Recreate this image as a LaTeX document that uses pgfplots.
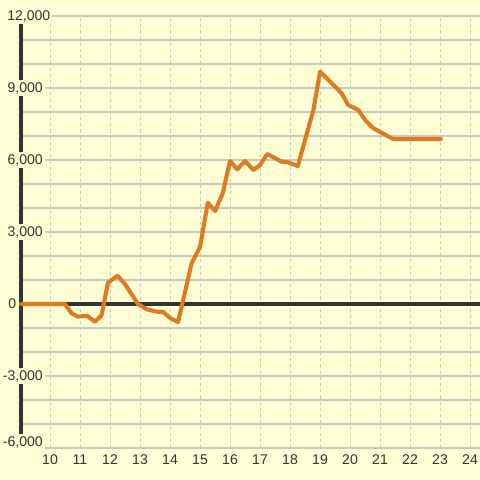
\documentclass[border=0pt]{standalone}
\usepackage{pgfplots}
\pgfplotsset{compat=1.18}
\usepackage{fontspec}
\setmainfont{Liberation Sans}
\definecolor{bgc}{HTML}{FEFED4}
\definecolor{gridc}{HTML}{C8C8C8}
\definecolor{axc}{HTML}{333333}
\definecolor{linec}{HTML}{E07A22}
\tikzset{ylab/.style={fill=bgc, inner sep=1.5pt, font=\fontsize{10}{12}\selectfont, text=axc}}
\begin{document}
\begin{tikzpicture}
  % 1px = 0.025cm, picture 480x480px
  \fill[bgc] (-0.525,-0.8) rectangle (11.475,11.2);
  \begin{axis}[
      scale only axis,
      width=11.475cm,
      height=10.8cm,
      xmin=9.033, xmax=24.333,
      ymin=-6000, ymax=12000,
      clip=false,
      axis lines*=left,
      axis line style={draw=none},
      major tick length=0pt,
      minor tick length=0pt,
      xtick={10,...,24},
      ytick={-6000,-3000,...,12000},
      yticklabels={},
      scaled y ticks=false,
      minor ytick={-6000,-5000,...,12000},
      xmajorgrids=true,
      ymajorgrids=true,
      yminorgrids=true,
      every axis x grid/.style={draw=gridc, line width=0.7pt, dash pattern=on 2.2pt off 2.2pt},
      every axis y grid/.style={draw=gridc, line width=0.8pt},
      /pgf/number format/assume math mode=true,
      tick label style={font=\fontsize{10}{12}\selectfont, text=axc},
      xticklabel style={yshift=-1pt},
    ]
    \draw[axc, line width=2.5pt] (axis cs:9.033,-6000) -- (axis cs:9.033,12000);
    \draw[axc, line width=2.5pt] (axis cs:9.033,0) -- (axis cs:24.333,0);
    \addplot[linec, line width=2.9pt, line join=round, line cap=round, mark=none] coordinates {
      (9.033,0) (10.5,0) (10.72,-390) (10.94,-530) (11.24,-490) (11.5,-740)
      (11.72,-460) (11.93,880) (12.25,1180) (12.5,830) (12.93,0) (13.22,-220)
      (13.56,-320) (13.77,-330) (14.0,-580) (14.27,-750) (14.72,1700) (15.0,2375)
      (15.26,4220) (15.5,3875) (15.76,4620) (16.0,5960) (16.24,5610) (16.5,5960)
      (16.78,5580) (17.0,5790) (17.24,6250) (17.72,5930) (17.94,5900) (18.26,5750)
      (18.5,6830) (18.78,8080) (19.0,9680) (19.39,9200) (19.72,8780) (19.94,8290)
      (20.28,8080) (20.5,7670) (20.77,7330) (21.07,7125) (21.43,6875) (23.03,6875)
    };
    % y tick labels, set over the axis line as in the original
    \node[ylab, anchor=west] at ([xshift=-0.35cm-1.5pt]axis cs:9.033,12000) {12,000};
    \node[ylab, anchor=east] at ([xshift=0.55cm+1.5pt]axis cs:9.033,9000) {9,000};
    \node[ylab, anchor=east] at ([xshift=0.55cm+1.5pt]axis cs:9.033,6000) {6,000};
    \node[ylab, anchor=east] at ([xshift=0.55cm+1.5pt]axis cs:9.033,3000) {3,000};
    \node[ylab, anchor=west] at ([xshift=-0.325cm-1.5pt]axis cs:9.033,0) {0};
    \node[ylab, anchor=east] at ([xshift=0.55cm+1.5pt]axis cs:9.033,-3000) {-3,000};
    \node[ylab, anchor=east] at ([xshift=0.55cm+1.5pt, yshift=0.15cm]axis cs:9.033,-6000) {-6,000};
  \end{axis}
  \pgfresetboundingbox
  \path[use as bounding box] (-0.525,-0.8) rectangle (11.475,11.2);
\end{tikzpicture}
\end{document}
